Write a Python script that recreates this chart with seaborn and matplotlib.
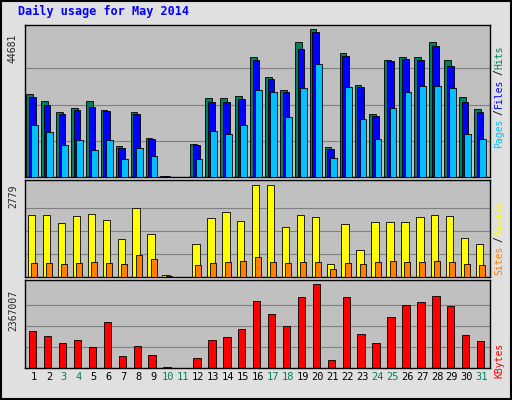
import matplotlib
matplotlib.use("Agg")
import matplotlib.pyplot as plt
import seaborn as sns
import numpy as np

sns.set_style("white")
plt.rcParams['font.family'] = ['DejaVu Sans Mono', 'DejaVu Sans']

days = list(range(1, 32))
hits = [25750,23600,20200,21400,23600,20800,9600,20200,12100,300,0,10200,24500,24500,25100,36900,31000,26700,41600,45600,9300,38200,28500,19500,36000,36900,36900,41600,36000,24800,21100]
files = [24800,22300,19500,20800,21700,20500,9000,19500,11800,250,0,9900,23300,23300,24200,36000,30400,26100,39400,44681,8700,37200,27900,18900,35700,36300,36000,40300,34400,23000,20200]
pages = [16100,14000,9900,11500,8400,11500,5600,9000,6500,100,0,5600,14300,13300,16100,26700,26100,18600,27600,34800,5900,27900,18000,11800,21400,26100,28200,28200,27600,13300,11800]
visits = [1870,1870,1630,1840,1900,1720,1150,2080,1300,60,0,1000,1780,1960,1690,2779,2779,1510,1870,1810,390,1600,815,1660,1660,1660,1810,1870,1840,1180,1000]
sites = [420,420,400,420,460,430,400,660,540,30,0,350,420,440,480,600,450,420,460,440,240,430,400,460,470,440,450,470,460,380,360]
kbytes = [1055000,912000,713000,798000,599000,1312000,342000,627000,371000,20000,0,285000,798000,884000,1112000,1882000,1511000,1198000,1996000,2367007,228000,1996000,970000,713000,1454000,1768000,1854000,2025000,1740000,941000,770000]
weekend = [3,4,10,11,17,18,24,25,31]

W, H = 512, 400
fig = plt.figure(figsize=(W/100, H/100), dpi=100, facecolor='#E0E0E0')
d = np.array(days)

def mk(top, bot):
    ax = fig.add_axes([25/W, (H-bot)/H, 465/W, (bot-top)/H])
    ax.set_facecolor('#C0C0C0')
    ax.set_xlim(0.4, 31.55)
    ax.set_xticks([]); ax.set_yticks([])
    for s in ax.spines.values():
        s.set_color('black'); s.set_linewidth(1)
    return ax

def grid(ax, m):
    ax.set_ylim(0, m*1.05)
    for f in (0.25, 0.5, 0.75):
        ax.axhline(m*f, color='#808080', lw=0.8, zorder=0)

ax1 = mk(25, 177)
grid(ax1, max(files))
ax1.bar(d-0.3, hits, width=0.45, color='#00805C', edgecolor='black', lw=0.6, zorder=2)
ax1.bar(d-0.12, files, width=0.45, color='#0000FF', edgecolor='black', lw=0.6, zorder=3)
ax1.bar(d+0.05, pages, width=0.45, color='#00C0FF', edgecolor='black', lw=0.6, zorder=4)

ax2 = mk(180, 277)
grid(ax2, max(visits))
ax2.bar(d-0.15, visits, width=0.5, color='#FFFF00', edgecolor='black', lw=0.6, zorder=2)
ax2.bar(d+0.02, sites, width=0.4, color='#FF8000', edgecolor='black', lw=0.6, zorder=3)

ax3 = mk(280, 368)
grid(ax3, max(kbytes))
ax3.bar(d-0.08, kbytes, width=0.5, color='#FF0000', edgecolor='black', lw=0.6, zorder=2)

ax3.set_xticks(days)
ax3.set_xticklabels([str(x) for x in days], fontsize=7.5)
for lab, x in zip(ax3.get_xticklabels(), days):
    lab.set_color('#00805C' if x in weekend else 'black')
ax3.tick_params(axis='x', length=0, pad=3)

fig.text(18/W, 1-11/H, 'Daily usage for May 2014', color='#0000FF', fontsize=8.5, fontweight='bold', va='center')
fs = 7
fig.text(13/W, 1-48/H, str(max(files)), rotation=90, fontsize=fs, ha='center', va='center')
fig.text(13/W, 1-196/H, str(max(visits)), rotation=90, fontsize=fs, ha='center', va='center')
fig.text(13/W, 1-310/H, str(max(kbytes)), rotation=90, fontsize=fs, ha='center', va='center')

def rlabel(y0, parts):
    y = y0
    for t, c in parts:
        fig.text(499/W, 1-y/H, t, rotation=90, fontsize=fs, color=c, ha='center', va='bottom')
        y -= len(t)*6.6
rlabel(148, [('Pages', '#00C0FF'), ('/', 'black'), ('Files', '#0000FF'), ('/', 'black'), ('Hits', '#00805C')])
rlabel(275, [('Sites', '#FF8000'), ('/', 'black'), ('Visits', '#FFFF00')])
rlabel(378, [('KBytes', '#FF0000')])

from matplotlib.patches import Rectangle
fig.patches.append(Rectangle((1/W, 1/H), 1-2/W, 1-2/H, transform=fig.transFigure, fill=False, edgecolor='black', lw=1.5))
fig.savefig('out.png', dpi=100, facecolor='#E0E0E0')
